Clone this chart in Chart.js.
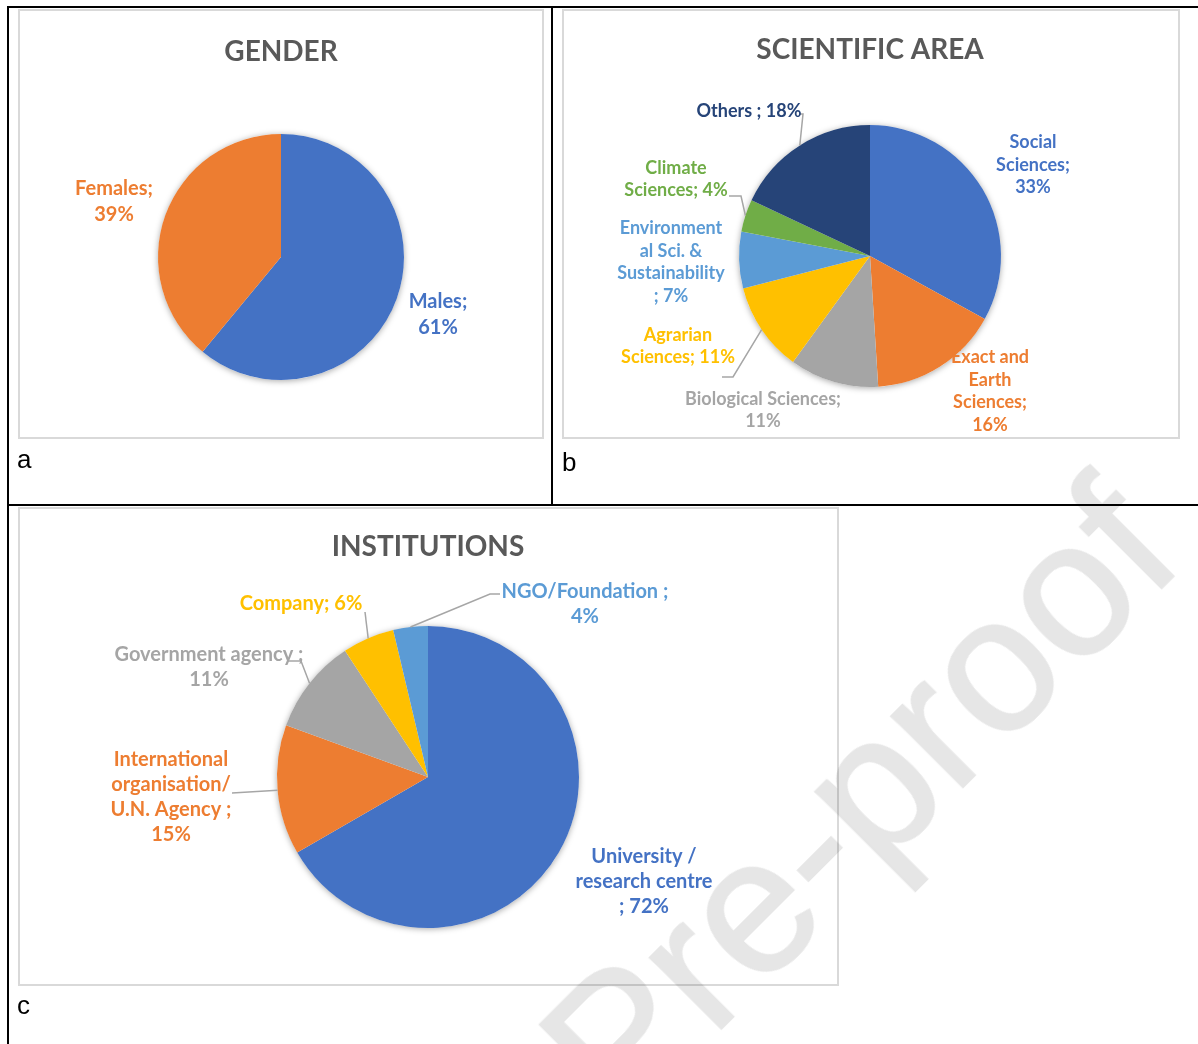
<!DOCTYPE html>
<html>
<head>
<meta charset="utf-8">
<script src="https://cdn.jsdelivr.net/npm/chart.js@4/dist/chart.umd.min.js"></script>
<style>
  body { margin: 0; background: #fff; width: 1198px; height: 1044px; overflow: hidden; position: relative; font-family: "Liberation Sans", Arial, sans-serif; }
  .rule { position: absolute; background: #000; }
  .box { position: absolute; border: 2px solid #d9d9d9; box-sizing: border-box; background: #fff; }
  .box canvas { position: absolute; left: 0; top: 0; }
  .tag { position: absolute; font-size: 26px; line-height: 26px; color: #000; }
  #mark { position: absolute; left: 507px; top: 1014px; font: 192px "Liberation Sans", Arial, sans-serif; line-height: 1; white-space: nowrap;
          color: #e6e6e6; -webkit-text-stroke: 2px #e6e6e6; mix-blend-mode: multiply;
          transform-origin: 0 0; transform: rotate(-45deg); pointer-events: none; }
</style>
</head>
<body>
<!-- table lines -->
<div class="rule" style="left:7px;top:6px;width:1191px;height:2px"></div>
<div class="rule" style="left:7px;top:6px;width:2px;height:1038px"></div>
<div class="rule" style="left:551px;top:6px;width:2px;height:500px"></div>
<div class="rule" style="left:7px;top:504px;width:1191px;height:2px"></div>

<div class="box" style="left:18px;top:9px;width:526px;height:430px;overflow:visible"><canvas id="gender" width="522" height="480"></canvas></div>
<div class="box" style="left:562px;top:9px;width:618px;height:430px;overflow:visible"><canvas id="area" width="614" height="480"></canvas></div>
<div class="box" style="left:18px;top:507px;width:821px;height:479px;overflow:visible"><canvas id="inst" width="817" height="520"></canvas></div>

<div class="tag" style="left:17px;top:446px">a</div>
<div class="tag" style="left:562px;top:449px">b</div>
<div class="tag" style="left:17px;top:992px">c</div>

<div id="mark">Pre-proof</div>

<script>
// data
const genderLabels = ['Males', 'Females'];
const genderValues = [61, 39];
const genderColors = ['#4472C4', '#ED7D31'];

const areaLabels = ['Social Sciences', 'Exact and Earth Sciences', 'Biological Sciences', 'Agrarian Sciences',
  'Environmental Sci. & Sustainability ', 'Climate Sciences', 'Others '];
const areaValues = [33, 16, 11, 11, 7, 4, 18];
const areaColors = ['#4472C4', '#ED7D31', '#A5A5A5', '#FFC000', '#5B9BD5', '#70AD47', '#264478'];

const instLabels = ['University / research centre ', 'International organisation/ U.N. Agency ', 'Government agency ',
  'Company', 'NGO/Foundation '];
const instValues = [72, 15, 11, 6, 4];
const instColors = ['#4472C4', '#ED7D31', '#A5A5A5', '#FFC000', '#5B9BD5'];

// split "name; value%" where Excel wrapped it
function cutText(text, cuts) {
  const out = [];
  let from = 0;
  cuts.forEach(c => { out.push(text.slice(from, c).trim()); from = c; });
  out.push(text.slice(from).trim());
  return out;
}

// data labels with leader lines + soft shadow under the pie
const sliceLabels = {
  id: 'sliceLabels',
  beforeDatasetsDraw(chart) {
    const arc = chart.getDatasetMeta(0).data[0];
    const ctx = chart.ctx;
    ctx.save();
    ctx.shadowColor = 'rgba(0,0,0,0.35)';
    ctx.shadowBlur = 6;
    ctx.shadowOffsetY = 1;
    ctx.beginPath();
    ctx.arc(arc.x, arc.y, arc.outerRadius, 0, Math.PI * 2);
    ctx.fillStyle = '#fff';
    ctx.fill();
    ctx.restore();
  },
  afterDatasetsDraw(chart, args, opts) {
    const ctx = chart.ctx;
    const ds = chart.data.datasets[0];
    chart.getDatasetMeta(0).data.forEach((arc, i) => {
      const spot = opts.spots[i];
      const cx = arc.x, cy = arc.y;
      ctx.save();
      if (spot.lead) {
        const mid = (arc.startAngle + arc.endAngle) / 2;
        ctx.strokeStyle = '#a6a6a6';
        ctx.lineWidth = 1.5;
        ctx.beginPath();
        spot.lead.forEach((p, k) => k ? ctx.lineTo(cx + p[0], cy + p[1]) : ctx.moveTo(cx + p[0], cy + p[1]));
        ctx.lineTo(cx + Math.cos(mid) * arc.outerRadius, cy + Math.sin(mid) * arc.outerRadius);
        ctx.stroke();
      }
      const lines = cutText(chart.data.labels[i] + '; ' + ds.data[i] + '%', spot.cuts);
      ctx.font = 'bold ' + opts.size + 'px Lato';
      ctx.fillStyle = ds.backgroundColor[i];
      ctx.textAlign = 'center';
      ctx.textBaseline = 'middle';
      const top = cy + spot.y - (lines.length - 1) * opts.lineH / 2;
      lines.forEach((t, k) => ctx.fillText(t, cx + spot.x, top + k * opts.lineH));
      ctx.restore();
    });
  }
};

function pieChart(id, title, labels, values, colors, look) {
  const canvas = document.getElementById(id);
  const w = canvas.width, h = canvas.height;
  const padTop = look.titleY - 0.6 * look.titleSize;
  const titleH = padTop + 1.2 * look.titleSize;
  return new Chart(canvas, {
    type: 'pie',
    data: {
      labels: labels,
      datasets: [{
        data: values,
        backgroundColor: colors,
        borderWidth: 0,
        radius: look.r
      }]
    },
    options: {
      responsive: false,
      animation: false,
      events: [],
      layout: {
        padding: { left: look.cx - look.r, right: w - look.cx - look.r, top: 0, bottom: titleH + h - 2 * look.cy }
      },
      plugins: {
        legend: { display: false },
        tooltip: { enabled: false },
        title: {
          display: true,
          text: title,
          color: '#595959',
          font: { family: 'Lato', size: look.titleSize, weight: 'bold' },
          padding: { top: padTop, bottom: 0 }
        },
        sliceLabels: { spots: look.spots, size: look.size, lineH: look.lineH }
      }
    },
    plugins: [sliceLabels]
  });
}

pieChart('gender', 'GENDER', genderLabels, genderValues, genderColors, {
  cx: 261, cy: 246, r: 123, titleY: 41, titleSize: 28, size: 20, lineH: 26,
  spots: [
    { x: 157, y: 58, cuts: [6] },
    { x: -167, y: -55, cuts: [8] }
  ]
});

pieChart('area', 'SCIENTIFIC AREA', areaLabels, areaValues, areaColors, {
  cx: 306, cy: 245, r: 131, titleY: 39, titleSize: 28, size: 18, lineH: 22.5,
  spots: [
    { x: 163, y: -91, cuts: [6, 16] },
    { x: 120, y: 135, cuts: [9, 15, 25] },
    { x: -107, y: 154, cuts: [20] },
    { x: -192, y: 90, cuts: [8], lead: [[-148, 121], [-137, 121]] },
    { x: -199, y: 6, cuts: [11, 20, 35] },
    { x: -194, y: -77, cuts: [7], lead: [[-141, -60], [-129, -60]] },
    { x: -121, y: -145, cuts: [], lead: [[-71, -142], [-67, -142]] }
  ]
});

pieChart('inst', 'INSTITUTIONS', instLabels, instValues, instColors, {
  cx: 408, cy: 268, r: 151, titleY: 38, titleSize: 28, size: 20, lineH: 25,
  spots: [
    { x: 216, y: 105, cuts: [12, 28] },
    { x: -257, y: 20, cuts: [13, 27, 41], lead: [[-196, 16]] },
    { x: -219, y: -110, cuts: [19], lead: [[-140, -116], [-127, -116]] },
    { x: -127, y: -173, cuts: [], lead: [[-63, -165]] },
    { x: 157, y: -173, cuts: [16], lead: [[72, -183], [62, -183]] }
  ]
});
</script>
</body>
</html>
